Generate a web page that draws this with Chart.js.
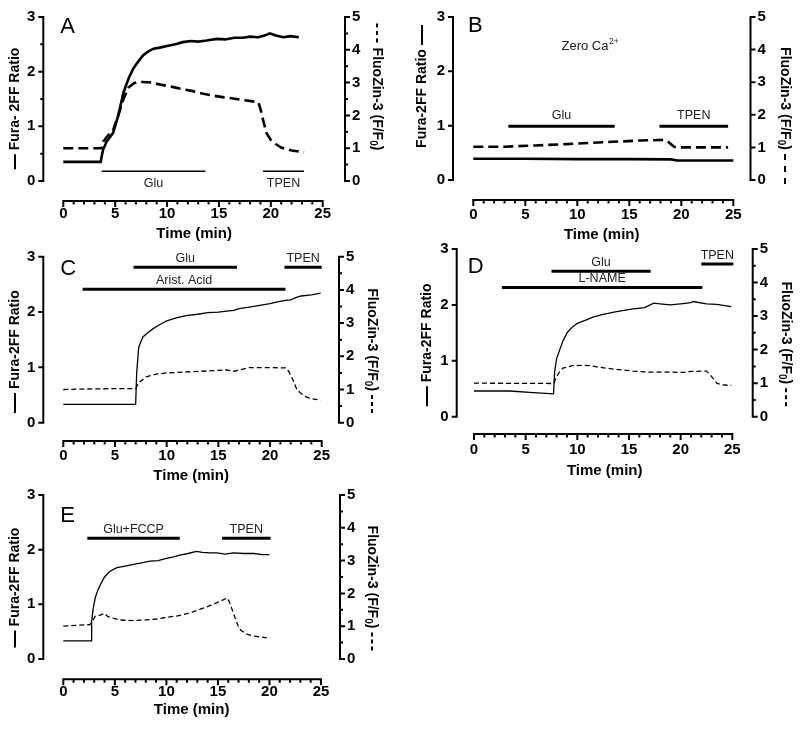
<!DOCTYPE html>
<html>
<head>
<meta charset="utf-8">
<script src="https://cdn.jsdelivr.net/npm/chart.js@4"></script>
<style>
  html, body { margin: 0; padding: 0; background: #fff; }
  #fig { position: relative; width: 800px; height: 729px; overflow: hidden; background: #fff; }
  #fig canvas { position: absolute; }
</style>
</head>
<body>
<div id="fig">
  <canvas id="panelA"></canvas>
  <canvas id="panelB"></canvas>
  <canvas id="panelC"></canvas>
  <canvas id="panelD"></canvas>
  <canvas id="panelE"></canvas>
</div>
<script>
// shared tick labels
const timeTicks = [0, 5, 10, 15, 20, 25];
const furaTicks = [0, 1, 2, 3];
const znTicks = [0, 1, 2, 3, 4, 5];

// Panel A
const tFuraA = [0, 3.6, 3.75, 3.85, 4.2, 4.8, 5.3, 5.8, 6.3, 6.75, 7.2, 7.7, 8.2, 8.7, 9.3, 10, 10.8, 11.5, 12.3, 13, 13.8, 14.8, 15.6, 16.5, 17.3, 18, 18.8, 19.4, 19.9, 20.5, 21.2, 21.9, 22.7];
const furaA = [0.35, 0.35, 0.5, 0.58, 0.73, 0.88, 1.2, 1.62, 1.88, 2.06, 2.18, 2.3, 2.37, 2.42, 2.44, 2.47, 2.5, 2.54, 2.56, 2.55, 2.57, 2.6, 2.59, 2.62, 2.62, 2.64, 2.63, 2.66, 2.7, 2.66, 2.63, 2.65, 2.63];
const tZnA = [0, 3.7, 3.85, 4.2, 4.8, 5.3, 5.8, 6.3, 6.8, 7.2, 7.7, 8.5, 9.5, 10.5, 11.5, 12.5, 13.5, 14.5, 15.5, 16.5, 17.5, 18.4, 18.8, 19.0, 19.3, 19.6, 20.0, 20.5, 21.0, 22.0, 23.2];
const znA = [1.0, 1.0, 1.2, 1.35, 1.55, 2.0, 2.5, 2.85, 2.98, 3.02, 3.02, 3.0, 2.93, 2.87, 2.8, 2.74, 2.66, 2.6, 2.55, 2.51, 2.46, 2.42, 2.4, 2.2, 1.8, 1.45, 1.25, 1.12, 1.02, 0.93, 0.88];
const drugNamesA = ["Glu", "TPEN"];
const drugStartA = [3.7, 19.25];
const drugEndA = [13.7, 23.2];
const drugLevelA = [0.18, 0.18];

// Panel B
const tFuraB = [0, 5, 10, 15, 19, 19.6, 25];
const furaB = [0.39, 0.39, 0.385, 0.385, 0.38, 0.36, 0.36];
const tZnB = [0, 3, 6, 9, 12, 14, 16, 18.3, 18.7, 19.3, 20, 24.5];
const znB = [1.02, 1.02, 1.06, 1.1, 1.15, 1.18, 1.21, 1.23, 1.18, 1.02, 1.0, 1.0];
const drugNamesB = ["Glu", "TPEN"];
const drugStartB = [3.37, 17.9];
const drugEndB = [13.6, 24.5];
const drugLevelB = [0.99, 0.99];

// Panel C
const tFuraC = [0, 7.0, 7.1, 7.3, 7.7, 8.2, 8.7, 9.3, 10, 11, 12, 13, 14, 15, 16, 16.5, 17, 18, 19, 20, 20.6, 21.5, 22, 22.5, 23, 24, 24.9];
const furaC = [0.33, 0.33, 0.9, 1.37, 1.55, 1.63, 1.7, 1.77, 1.84, 1.9, 1.94, 1.96, 1.99, 2.0, 2.02, 2.03, 2.06, 2.09, 2.12, 2.15, 2.18, 2.21, 2.22, 2.26, 2.29, 2.31, 2.34];
const tZnC = [0, 3, 7.0, 7.3, 8, 9, 10, 12, 14, 15.8, 16.5, 17.2, 18, 20, 21.5, 21.8, 22.2, 22.6, 23, 23.5, 24, 24.9];
const znC = [1.0, 1.02, 1.03, 1.2, 1.38, 1.46, 1.5, 1.53, 1.56, 1.59, 1.55, 1.6, 1.66, 1.66, 1.65, 1.55, 1.3, 1.0, 0.88, 0.78, 0.72, 0.68];
const drugNamesC = ["Glu", "Arist. Acid", "TPEN"];
const drugStartC = [6.8, 1.87, 21.4];
const drugEndC = [16.8, 21.5, 25];
const drugLevelC = [2.81, 2.41, 2.81];

// Panel D
const tFuraD = [0, 3.5, 5.7, 7.7, 7.8, 8.0, 8.3, 8.6, 9.0, 9.5, 10, 11, 11.5, 12.5, 13.8, 15.4, 16.5, 17.4, 18, 19, 20, 21, 21.2, 22.5, 23.5, 24.9];
const furaD = [0.46, 0.46, 0.43, 0.41, 0.8, 1.04, 1.2, 1.35, 1.5, 1.6, 1.67, 1.74, 1.78, 1.83, 1.88, 1.93, 1.95, 2.03, 2.02, 2.0, 2.02, 2.04, 2.06, 2.02, 2.01, 1.97];
const tZnD = [0, 7.7, 8.0, 8.3, 8.6, 9.5, 10.6, 11.2, 12.2, 13.5, 15.4, 17, 18.5, 20.3, 21, 22.5, 22.8, 23.2, 23.5, 24, 24.9];
const znD = [1.0, 0.99, 1.19, 1.35, 1.45, 1.52, 1.53, 1.52, 1.47, 1.42, 1.36, 1.33, 1.33, 1.32, 1.35, 1.36, 1.27, 1.12, 1.0, 0.95, 0.93];
const drugNamesD = ["Glu", "L-NAME", "TPEN"];
const drugStartD = [7.5, 2.7, 22];
const drugEndD = [17.1, 22.1, 25.1];
const drugLevelD = [2.6, 2.31, 2.73];

// Panel E
const tFuraE = [0, 2.7, 2.75, 2.9, 3.1, 3.35, 3.6, 4.0, 4.5, 5.2, 6, 6.8, 7.6, 8.4, 9.2, 10, 10.7, 11.3, 12.1, 12.9, 13.5, 14.2, 14.9, 15.7, 16.5, 17.5, 18.5, 19.3, 20];
const furaE = [0.33, 0.33, 0.7, 0.92, 1.12, 1.26, 1.36, 1.5, 1.6, 1.67, 1.7, 1.73, 1.76, 1.79, 1.8, 1.84, 1.87, 1.9, 1.93, 1.97, 1.95, 1.94, 1.94, 1.92, 1.94, 1.93, 1.93, 1.91, 1.91];
const tZnE = [0, 2.6, 2.9, 3.1, 3.5, 4.0, 4.3, 4.7, 5.5, 6.8, 8, 9, 10, 11, 11.7, 12.5, 13.3, 14.1, 14.9, 15.5, 15.9, 16.1, 16.5, 16.9, 17.2, 17.8, 18.4, 19.2, 20];
const znE = [1.0, 1.05, 1.2, 1.3, 1.33, 1.39, 1.3, 1.25, 1.19, 1.17, 1.19, 1.22, 1.27, 1.31, 1.36, 1.43, 1.52, 1.61, 1.72, 1.8, 1.86, 1.75, 1.4, 1.05, 0.88, 0.76, 0.7, 0.67, 0.63];
const drugNamesE = ["Glu+FCCP", "TPEN"];
const drugStartE = [2.33, 15.4];
const drugEndE = [11.3, 20.1];
const drugLevelE = [2.21, 2.21];

const FONT = "'Liberation Sans', Arial, Helvetica, sans-serif";

function pts(xs, ys) {
  return xs.map((x, i) => ({ x: x, y: ys[i] }));
}

function drawAxisTitle(ctx, cx, cy, angle, parts, mark) {
  ctx.save();
  ctx.translate(cx, cy);
  ctx.rotate(angle);
  ctx.textBaseline = "middle";
  ctx.textAlign = "left";
  let w = 0;
  parts.forEach(p => {
    ctx.font = "bold " + p.size + "px " + FONT;
    p.w = ctx.measureText(p.t).width;
    w += p.w;
  });
  let x = -w / 2;
  parts.forEach(p => {
    ctx.font = "bold " + p.size + "px " + FONT;
    ctx.fillText(p.t, x, p.dy || 0);
    x += p.w;
  });
  const gap = 4;
  const x1 = mark.atStart ? -w / 2 - gap - mark.len : w / 2 + gap;
  ctx.lineWidth = 2;
  ctx.setLineDash(mark.dash || []);
  ctx.beginPath();
  ctx.moveTo(x1, 0);
  ctx.lineTo(x1 + mark.len, 0);
  ctx.stroke();
  ctx.restore();
}

// Prism-style offset axes, titles, drug labels and panel letter
const prismAxes = {
  id: "prismAxes",
  afterDraw(chart, args, o) {
    const ctx = chart.ctx;
    const a = chart.chartArea;
    const xs = chart.scales.x, ys = chart.scales.y, ys2 = chart.scales.y2;
    ctx.save();
    ctx.strokeStyle = "#000";
    ctx.fillStyle = "#000";
    ctx.lineWidth = 2;

    // left axis
    ctx.beginPath();
    ctx.moveTo(a.left, ys.getPixelForValue(0) + 1);
    ctx.lineTo(a.left, ys.getPixelForValue(3) - 1);
    furaTicks.forEach(v => {
      const py = ys.getPixelForValue(v);
      ctx.moveTo(a.left, py);
      ctx.lineTo(a.left - 5, py);
    });
    if (o.leftMinor) {
      for (let v = 0.5; v < 3; v += 1) {
        const py = ys.getPixelForValue(v);
        ctx.moveTo(a.left, py);
        ctx.lineTo(a.left - 3, py);
      }
    }
    ctx.stroke();

    // right axis
    ctx.beginPath();
    ctx.moveTo(a.right, ys2.getPixelForValue(0) + 1);
    ctx.lineTo(a.right, ys2.getPixelForValue(5) - 1);
    znTicks.forEach(v => {
      const py = ys2.getPixelForValue(v);
      ctx.moveTo(a.right, py);
      ctx.lineTo(a.right + 5, py);
    });
    if (o.rightMinor) {
      for (let v = 0.5; v < 5; v += 1) {
        const py = ys2.getPixelForValue(v);
        ctx.moveTo(a.right, py);
        ctx.lineTo(a.right + 3, py);
      }
    }
    ctx.stroke();

    // detached x axis
    const yA = a.bottom + o.gap;
    ctx.beginPath();
    ctx.moveTo(xs.getPixelForValue(0) - 1, yA);
    ctx.lineTo(xs.getPixelForValue(25) + 1, yA);
    for (let v = 0; v <= 25; v++) {
      const px = xs.getPixelForValue(v);
      ctx.moveTo(px, yA);
      ctx.lineTo(px, yA + (v % 5 === 0 ? 6 : 3.5));
    }
    ctx.stroke();

    // axis titles
    const cy = (ys.getPixelForValue(0) + ys.getPixelForValue(3)) / 2;
    drawAxisTitle(ctx, o.leftTitleX, cy, -Math.PI / 2,
      [{ t: o.leftText, size: 14 }],
      { atStart: o.leftMarkStart, len: o.leftMarkLen });
    drawAxisTitle(ctx, o.rightTitleX, cy, Math.PI / 2,
      [{ t: "FluoZin-3 (F/F", size: 14 }, { t: "0", size: 10, dy: 4 }, { t: ")", size: 14 }],
      { atStart: o.rightMarkStart, len: o.rightMarkLen, dash: o.rightMarkDash });

    // drug labels
    ctx.font = "12.5px " + FONT;
    ctx.textAlign = "center";
    ctx.textBaseline = "middle";
    ctx.fillStyle = "#222";
    o.drugs.names.forEach((n, i) => {
      const px = (xs.getPixelForValue(o.drugs.start[i]) + xs.getPixelForValue(o.drugs.end[i])) / 2;
      const py = ys.getPixelForValue(o.drugs.level[i]) + o.labelDy;
      ctx.fillText(n, px, py);
    });

    // extra note (Zero Ca2+)
    if (o.note) {
      const px = xs.getPixelForValue(o.note.at[0]);
      const py = ys.getPixelForValue(o.note.at[1]);
      ctx.font = "13px " + FONT;
      const w1 = ctx.measureText(o.note.text).width;
      ctx.font = "8.5px " + FONT;
      const w2 = ctx.measureText(o.note.sup).width;
      let x = px - (w1 + w2) / 2;
      ctx.textAlign = "left";
      ctx.font = "13px " + FONT;
      ctx.fillText(o.note.text, x, py);
      ctx.font = "8.5px " + FONT;
      ctx.fillText(o.note.sup, x + w1 + 0.5, py - 5);
    }

    // panel letter
    ctx.fillStyle = "#000";
    ctx.textAlign = "left";
    ctx.textBaseline = "alphabetic";
    ctx.font = "22px " + FONT;
    ctx.fillText(o.letter, a.left + o.letterOff[0], a.top + o.letterOff[1]);
    ctx.restore();
  }
};

function makePanel(p) {
  const el = document.getElementById(p.id);
  const [cx, cy, W, H] = p.canvas;
  el.width = W;
  el.height = H;
  el.style.left = cx + "px";
  el.style.top = cy + "px";
  const L = p.area[0] - cx, R = p.area[1] - cx, T = p.area[2] - cy, B = p.area[3] - cy;
  const ppm = (p.x25 - p.x0) / 25;
  const xMin = -(p.x0 - p.area[0]) / ppm;
  const xMax = (p.area[1] - p.x0) / ppm;
  const tickFont = { family: FONT, size: 15, weight: "bold" };

  const datasets = [
    {
      data: pts(p.tFura, p.fura), yAxisID: "y",
      borderColor: "#000", borderWidth: p.thick ? 2.6 : 1.3,
      pointRadius: 0, tension: 0, fill: false
    },
    {
      data: pts(p.tZn, p.zn), yAxisID: "y2",
      borderColor: "#000", borderWidth: p.thick ? 2.6 : 1.3,
      borderDash: p.thick ? [10, 5] : [5, 3],
      pointRadius: 0, tension: 0, fill: false
    }
  ];
  p.drugs.names.forEach((n, i) => {
    datasets.push({
      data: [{ x: p.drugs.start[i], y: p.drugs.level[i] }, { x: p.drugs.end[i], y: p.drugs.level[i] }],
      yAxisID: "y", borderColor: "#000", borderWidth: p.barWidth,
      pointRadius: 0, fill: false
    });
  });

  new Chart(el, {
    type: "line",
    data: { datasets: datasets },
    options: {
      responsive: false,
      animation: false,
      layout: { padding: { left: 0, right: 0, top: T, bottom: 0 } },
      plugins: {
        legend: { display: false },
        tooltip: { enabled: false },
        prismAxes: {
          gap: p.axisY - p.area[3],
          leftMinor: p.leftMinor, rightMinor: p.rightMinor,
          leftTitleX: p.leftTitleX - cx, rightTitleX: p.rightTitleX - cx,
          leftText: p.leftText, leftMarkStart: p.leftMarkStart, leftMarkLen: p.leftMarkLen,
          rightMarkStart: p.rightMarkStart, rightMarkLen: p.rightMarkLen, rightMarkDash: p.rightMarkDash,
          drugs: p.drugs, labelDy: p.labelDy, note: p.note,
          letter: p.letter, letterOff: p.letterOff
        }
      },
      scales: {
        x: {
          type: "linear", position: "bottom", min: xMin, max: xMax,
          grid: { display: false, drawTicks: false },
          border: { display: false },
          ticks: { padding: p.labelY - p.area[3] - 9, font: tickFont, color: "#000", maxRotation: 0, autoSkip: false },
          title: {
            display: true, text: "Time (min)", color: "#000",
            font: { family: FONT, size: 15, weight: "bold" },
            padding: { top: 0, bottom: H - (p.titleY - cy) - 9 }
          },
          afterBuildTicks: s => { s.ticks = timeTicks.map(v => ({ value: v })); },
          afterFit: s => { s.height = H - B; }
        },
        y: {
          position: "left", min: 0, max: 3,
          grid: { display: false, drawTicks: false },
          border: { display: false },
          ticks: { padding: 8, font: tickFont, color: "#000" },
          afterBuildTicks: s => { s.ticks = furaTicks.map(v => ({ value: v })); },
          afterFit: s => { s.width = L; }
        },
        y2: {
          position: "right", min: 0, max: 5,
          grid: { display: false, drawTicks: false },
          border: { display: false },
          ticks: { padding: 7, font: tickFont, color: "#000" },
          afterBuildTicks: s => { s.ticks = znTicks.map(v => ({ value: v })); },
          afterFit: s => { s.width = W - R; }
        }
      }
    },
    plugins: [prismAxes]
  });
}

document.addEventListener("DOMContentLoaded", function () {
  makePanel({
    id: "panelA", letter: "A", letterOff: [17, 16],
    canvas: [0, 0, 400, 248], area: [43.3, 345, 12.3, 181],
    x0: 63.3, x25: 322.7, axisY: 201, labelY: 214, titleY: 234,
    leftTitleX: 15, rightTitleX: 377,
    leftText: "Fura- 2FF Ratio", leftMarkStart: true, leftMarkLen: 15,
    rightMarkStart: true, rightMarkLen: 20, rightMarkDash: [4, 3.5],
    leftMinor: true, rightMinor: true, thick: true, barWidth: 1.5, labelDy: 12,
    tFura: tFuraA, fura: furaA, tZn: tZnA, zn: znA,
    drugs: { names: drugNamesA, start: drugStartA, end: drugEndA, level: drugLevelA }
  });
  makePanel({
    id: "panelB", letter: "B", letterOff: [15, 15],
    canvas: [400, 0, 400, 248], area: [453, 750.5, 13, 180],
    x0: 473.3, x25: 733.3, axisY: 200, labelY: 215, titleY: 235,
    leftTitleX: 422, rightTitleX: 785,
    leftText: "Fura-2FF Ratio", leftMarkStart: false, leftMarkLen: 20,
    rightMarkStart: false, rightMarkLen: 33, rightMarkDash: [6, 6],
    leftMinor: false, rightMinor: false, thick: true, barWidth: 3, labelDy: -11,
    tFura: tFuraB, fura: furaB, tZn: tZnB, zn: znB,
    drugs: { names: drugNamesB, start: drugStartB, end: drugEndB, level: drugLevelB },
    note: { text: "Zero Ca", sup: "2+", at: [11.2, 2.46] }
  });
  makePanel({
    id: "panelC", letter: "C", letterOff: [17, 18],
    canvas: [0, 238, 400, 250], area: [43.3, 339, 256.7, 422.7],
    x0: 63.3, x25: 321.7, axisY: 441, labelY: 456, titleY: 476,
    leftTitleX: 15, rightTitleX: 372,
    leftText: "Fura-2FF Ratio", leftMarkStart: true, leftMarkLen: 20,
    rightMarkStart: false, rightMarkLen: 20, rightMarkDash: [4, 3],
    leftMinor: false, rightMinor: true, thick: false, barWidth: 3, labelDy: -9,
    tFura: tFuraC, fura: furaC, tZn: tZnC, zn: znC,
    drugs: { names: drugNamesC, start: drugStartC, end: drugEndC, level: drugLevelC }
  });
  makePanel({
    id: "panelD", letter: "D", letterOff: [11, 24],
    canvas: [400, 232, 400, 250], area: [456.7, 752.7, 249, 416.7],
    x0: 474, x25: 732.3, axisY: 434, labelY: 450, titleY: 471,
    leftTitleX: 427, rightTitleX: 786,
    leftText: "Fura-2FF Ratio", leftMarkStart: true, leftMarkLen: 20,
    rightMarkStart: false, rightMarkLen: 20, rightMarkDash: [4, 3],
    leftMinor: false, rightMinor: true, thick: false, barWidth: 3, labelDy: -9,
    tFura: tFuraD, fura: furaD, tZn: tZnD, zn: znD,
    drugs: { names: drugNamesD, start: drugStartD, end: drugEndD, level: drugLevelD }
  });
  makePanel({
    id: "panelE", letter: "E", letterOff: [17, 27],
    canvas: [0, 478, 400, 251], area: [43.3, 340, 492.7, 659],
    x0: 63.3, x25: 321, axisY: 679.3, labelY: 692, titleY: 710,
    leftTitleX: 15, rightTitleX: 372,
    leftText: "Fura-2FF Ratio", leftMarkStart: true, leftMarkLen: 17,
    rightMarkStart: false, rightMarkLen: 20, rightMarkDash: [4, 3],
    leftMinor: false, rightMinor: true, thick: false, barWidth: 3, labelDy: -9,
    tFura: tFuraE, fura: furaE, tZn: tZnE, zn: znE,
    drugs: { names: drugNamesE, start: drugStartE, end: drugEndE, level: drugLevelE }
  });
});
</script>
</body>
</html>
